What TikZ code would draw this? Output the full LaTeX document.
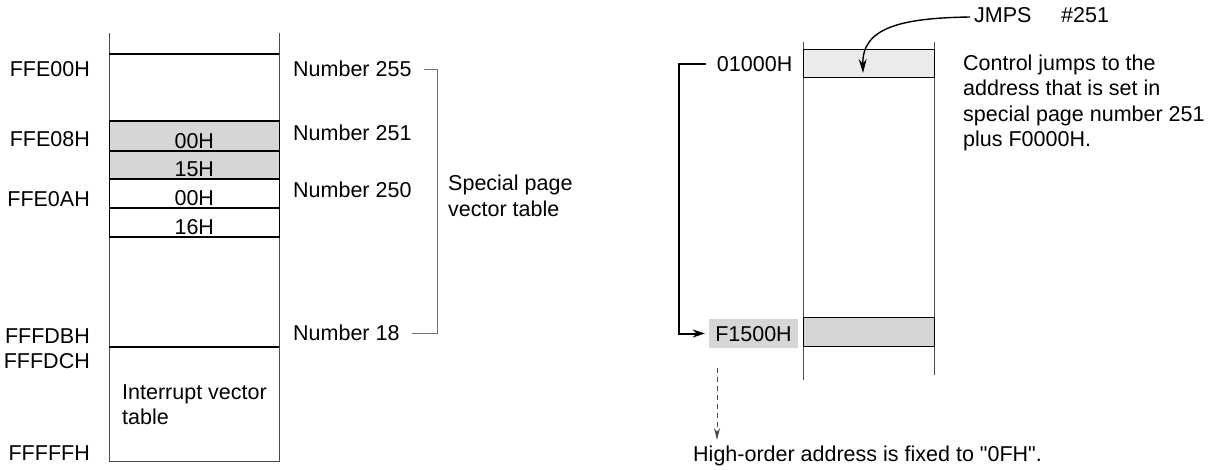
\documentclass[tikz,border=0pt]{standalone}
\usepackage{fontspec}
\setmainfont{Liberation Sans}[Ligatures=TeXOff]
\usetikzlibrary{arrows.meta}
\tikzset{
  every node/.style={font=\fontsize{21.5}{25.5}\selectfont, inner sep=0pt},
  addr/.style={anchor=base east},
  txt/.style={anchor=base west},
  note/.style={anchor=north west, align=left},
  cell/.style={draw, line width=1.6pt, minimum width=170pt},
  celltext/.style={anchor=base, yshift=3pt},
  memline/.style={draw=black!70, line width=1pt},
}
\begin{document}
\begin{tikzpicture}[x=1pt,y=-1pt]
    \useasboundingbox (0,0) rectangle (1231,470);

    % Left memory map
    \draw[memline] (109.3,33) -- (109.3,461) -- (279.3,461) -- (279.3,33);
    \draw[line width=1.6pt] (109.3,54) -- (279.3,54);
    \draw[line width=1.6pt] (109.3,347) -- (279.3,347);
    \node[cell, fill=black!16, minimum height=30pt] (c251lo) at (194.3,136) {};
    \node[cell, fill=black!16, minimum height=28pt] (c251hi) at (194.3,165) {};
    \node[cell, minimum height=29pt] (c250lo) at (194.3,193.5) {};
    \node[cell, minimum height=29pt] (c250hi) at (194.3,222.5) {};
    \node[celltext] at (c251lo.south) {00H};
    \node[celltext] at (c251hi.south) {15H};
    \node[celltext] at (c250lo.south) {00H};
    \node[celltext] at (c250hi.south) {16H};
    \node[note] (ivt) at (122,384.5) {Interrupt vector\\table};

    % Addresses
    \node[addr] (aFFE00) at (90,77) {FFE00H};
    \node[addr] (aFFE08) at (90,147) {FFE08H};
    \node[addr] (aFFE0A) at (90,207) {FFE0AH};
    \node[addr] (aFFFDB) at (90,343) {FFFDBH};
    \node[addr] (aFFFDC) at (90,368) {FFFDCH};
    \node[addr] (aFFFFF) at (90,460) {FFFFFH};

    % Page numbers and bracket
    \node[txt] (n255) at (293,77) {Number 255};
    \node[txt] (n251) at (293,141) {Number 251};
    \node[txt] (n250) at (293,198) {Number 250};
    \node[txt] (n18) at (293,340) {Number 18};
    \draw[black!55, line width=1pt] ([xshift=12pt]n255.east |- 0,70) -- (437,70)
      -- (437,333) -- ([xshift=12pt]n18.east |- 0,333);
    \node[note] (spvt) at (448,175) {Special page\\vector table};

    % Right memory map
    \draw[memline] (803,42) -- (803,380);
    \draw[memline] (934,42) -- (934,375);
    \node[draw, fill=black!8, line width=1pt, minimum width=131pt, minimum height=28pt]
      (c01000) at (868.5,64) {};
    \node[draw, fill=black!16, line width=1pt, minimum width=131pt, minimum height=29pt]
      (cF1500) at (868.5,331.5) {};
    \node[addr] (a01000) at (792.5,71.7) {01000H};
    \node[fill=black!16, minimum width=89pt, minimum height=29pt, text depth=0pt,
      text height=15.4pt] (aF1500) at (753.5,333.5) {F1500H};

    % Jump
    \draw[line width=2pt, -{Stealth[length=12pt,width=8pt]}]
      ([xshift=-11pt]a01000.west) -- ++(-27,0) coordinate (bk) |- ([xshift=-4pt]aF1500.west);
    \node[txt] (jmps) at (974,23) {JMPS};
    \node[txt] (jnum) at (1061,23) {\#251};
    \coordinate (jtarget) at (863,73);
    \draw[line width=1.4pt, -{Stealth[length=14pt,width=8pt]}]
      ([xshift=-4pt]jmps.west |- 0,17) .. controls (900,18) and (862,28) .. (jtarget);
    \node[note] (ctrl) at (963,54.5)
      {Control jumps to the\\address that is set in\\special page number 251\\plus F0000H.};

    % High-order note
    \node[txt] (hiord) at (693,461.7) {High-order address is fixed to "0FH".};
    \draw[black!70, line width=1pt, dash pattern=on 5pt off 4pt, -{Stealth[length=12pt,width=6pt]}]
      (717,368) -- (717,440);
\end{tikzpicture}
\end{document}
